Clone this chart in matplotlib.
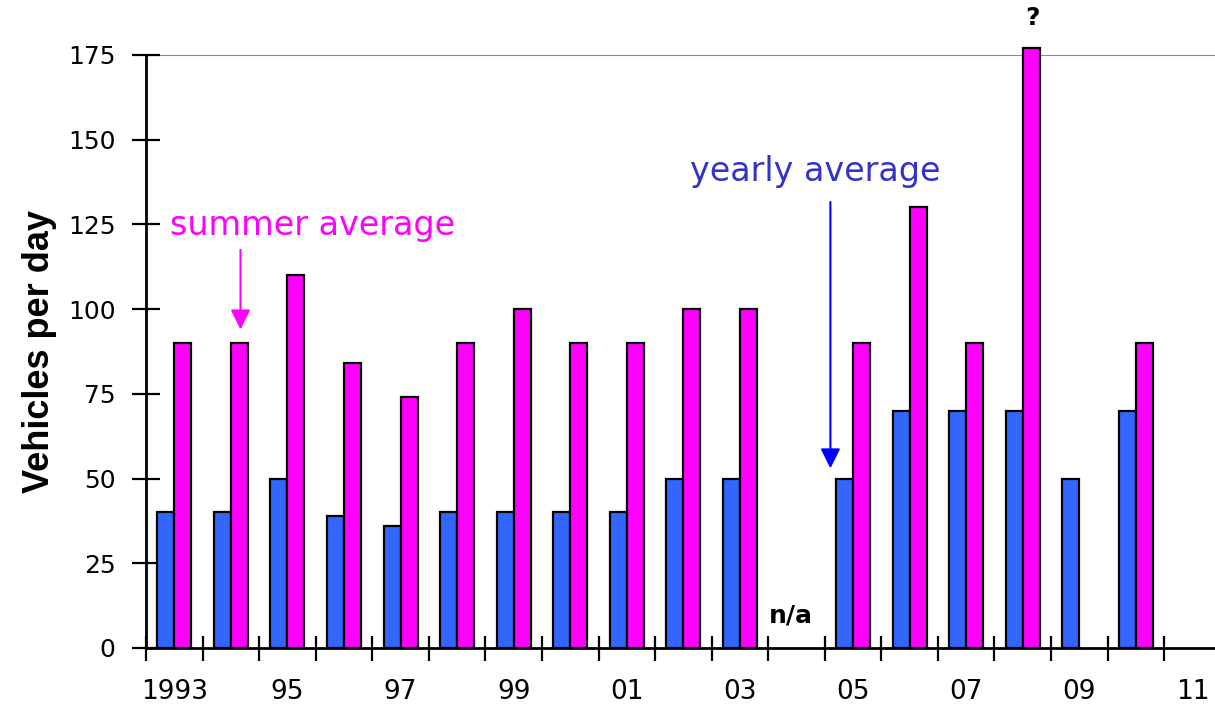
import numpy as np
import matplotlib
matplotlib.use("Agg")
import matplotlib.pyplot as plt

years = list(range(1993, 2011))
yearly = [40, 40, 50, 39, 36, 40, 40, 40, 40, 50, 50, np.nan, 50, 70, 70, 70, 50, 70]
summer = [90, 90, 110, 84, 74, 90, 100, 90, 90, 100, 100, np.nan, 90, 130, 90, 177, np.nan, 90]
tick_labels = ["1993", "95", "97", "99", "01", "03", "05", "07", "09", "11"]

blue = "#3366ff"
pink = "#ff00ff"

fig = plt.figure(figsize=(12.15, 7.13), dpi=100)
ax = fig.add_axes([0.1202, 0.0912, 0.8798, 0.8317])

x = np.arange(len(years))
w = 0.3
ax.bar(x - w / 2, yearly, w, color=blue, edgecolor="black", linewidth=1.6, zorder=3)
ax.bar(x + w / 2, summer, w, color=pink, edgecolor="black", linewidth=1.6, zorder=3, clip_on=False)

ax.set_ylim(0, 175)
ax.set_xlim(-0.5, 18.4)
ax.axhline(175, color="#888888", linewidth=1.5, zorder=1)

for s in ["top", "right"]:
    ax.spines[s].set_visible(False)
ax.spines["left"].set_linewidth(2)
ax.spines["bottom"].set_linewidth(2)

ax.set_yticks(np.arange(0, 176, 25))
ax.tick_params(axis="y", direction="inout", length=20, width=1.6, labelsize=18, pad=12)

# group boundaries get the tick marks, labels sit under every second group
ax.set_xticks(np.arange(-0.5, 18, 1), minor=True)
ax.set_xticks(np.arange(0, 19, 2))
ax.set_xticklabels(tick_labels)
ax.tick_params(axis="x", which="minor", direction="inout", length=18, width=1.6)
ax.tick_params(axis="x", which="major", length=0, labelsize=19, pad=22)

ax.set_ylabel("Vehicles per day", fontsize=26, fontweight="bold",
              family="Liberation Sans", labelpad=8)

ax.text(2.45, 124.8, "summer average", color=pink, fontsize=24,
        ha="center", va="center")
ax.annotate("", xy=(1.17, 94), xytext=(1.17, 117.5),
            arrowprops=dict(arrowstyle="-|>", color=pink, lw=1.5,
                            mutation_scale=30, shrinkA=0, shrinkB=0))

ax.text(11.33, 140.5, "yearly average", color="#3333cc", fontsize=24,
        ha="center", va="center")
ax.annotate("", xy=(11.6, 53), xytext=(11.6, 131.6),
            arrowprops=dict(arrowstyle="-|>", color="#0000ff", lw=1.5,
                            mutation_scale=30, shrinkA=0, shrinkB=0))

ax.text(10.9, 9.7, "n/a", fontsize=18, fontweight="bold", ha="center", va="center")
ax.text(15.17, 186, "?", fontsize=18, fontweight="bold", ha="center", va="center")

fig.savefig("out.png", dpi=100)
